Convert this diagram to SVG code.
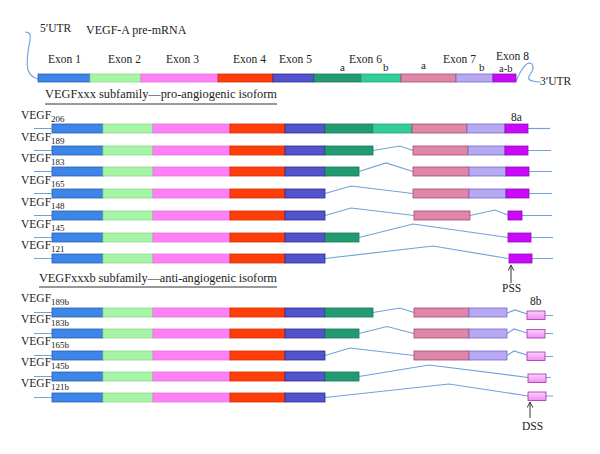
<svg xmlns="http://www.w3.org/2000/svg" width="600" height="454" viewBox="0 0 600 454">
<defs>
<style>
text{font-family:"Liberation Serif","Times New Roman",serif;fill:#222;}
.lb{font-size:11.5px;}
.hd{font-size:12.4px;}
.sm{font-size:11px;}
.sub{font-size:9px;}
.ln{fill:none;stroke:#6fa3dc;stroke-width:1.2;}
.ul{stroke:#333;stroke-width:1;}
.ar{stroke:#333;stroke-width:1;fill:none;}
.e1{fill:#3d85e8;stroke:#2a5ca8;stroke-width:0.8;}
.e2{fill:#a6f5a6;stroke:#8ed88e;stroke-width:0.8;}
.e3{fill:#ff80f5;stroke:#e472e4;stroke-width:0.8;}
.e4{fill:#ff3d0a;stroke:#d03000;stroke-width:0.8;}
.e5{fill:#5254cc;stroke:#2c2c8c;stroke-width:0.8;}
.e6a{fill:#229a72;stroke:#1a7858;stroke-width:0.8;}
.e6b{fill:#33cc99;stroke:#22a880;stroke-width:0.8;}
.e7a{fill:#de87a8;stroke:#a84870;stroke-width:0.8;}
.e7b{fill:#b7a8f2;stroke:#7868c8;stroke-width:0.8;}
.e8a{fill:#cc08fa;stroke:#8a10b0;stroke-width:0.8;}
.e8b{fill:url(#g8b);stroke:#a030b0;stroke-width:0.8;}
</style>
<linearGradient id="g8b" x1="0" y1="0" x2="0" y2="1">
<stop offset="0" stop-color="#fbd0fb"/>
<stop offset="1" stop-color="#f090f0"/>
</linearGradient>
<marker id="ah" viewBox="0 0 10 10" refX="9" refY="5" markerWidth="7" markerHeight="7" orient="auto">
<path d="M1,1 L9,5 L1,9" fill="none" stroke="#333" stroke-width="1.4"/>
</marker>
</defs>
<rect width="600" height="454" fill="#fff"/>

<g id="connectors">
<path class="ln" d="M25,32 C30,32 31,35 30,40 C28,50 26,62 28,70 C30,76 34,78 38,79"/>
<path class="ln" d="M516,81 C520,72 524,64 529,63 C534,63 534,69 531,73 C528,77 527,80 533,81 C536,82 538,82 541,82"/>
<path class="ln" d="M34,128.5H52 M34,150.5H52 M34,171.5H52 M34,193.5H52 M34,215.5H52 M34,237.5H52 M34,258.5H52"/>
<path class="ln" d="M528,128.5H550"/>
<path class="ln" d="M373,150.5 L400,146 L413,150.5 M528,150.5H551"/>
<path class="ln" d="M359,171.5 L386,163 L413,171.5 M529,171.5H552"/>
<path class="ln" d="M325,193.5 L351,186 L413,193.5 M529,193.5H552"/>
<path class="ln" d="M325,215.5 L351,208 L414,215.5 M470,215.5 L495,210 L508,215 M522,215.5H552"/>
<path class="ln" d="M359,237.5 L413,224 L508,237.5 M531,237.5H553"/>
<path class="ln" d="M325,258.5 L433,246 L508,258.5 M532,258.5H553"/>
<path class="ln" d="M34,312.5H52 M34,333.5H52 M34,355.5H52 M34,376.5H52 M34,397.5H52"/>
<path class="ln" d="M373,312.5 L400,308 L414,312.5 M507,313 L515,310 L527,314 M545,315.5H553"/>
<path class="ln" d="M359,333.5 L387,326.5 L414,333.5 M507,333.5 L514,329 L527,333 M545,333.5H553"/>
<path class="ln" d="M325,355.5 L350,348 L414,355.5 M507,355.5 L514,351 L527,355 M545,356.5H553"/>
<path class="ln" d="M359,376.5 L429,365 L528,377.5 M546,377.5H551"/>
<path class="ln" d="M325,397.5 L449,384 L528,396 M546,396H553"/>
<line class="ar" x1="511" y1="283" x2="511" y2="265" marker-end="url(#ah)"/>
<line class="ar" x1="530" y1="418" x2="530" y2="402" marker-end="url(#ah)"/>
</g>

<g id="premrna">
<text class="lb" x="40" y="32">5′UTR</text>
<text x="86" y="34" style="font-size:12px">VEGF-A pre-mRNA</text>
<text class="lb" x="48" y="63">Exon 1</text>
<text class="lb" x="108" y="63">Exon 2</text>
<text class="lb" x="166" y="63">Exon 3</text>
<text class="lb" x="233" y="63">Exon 4</text>
<text class="lb" x="279" y="63">Exon 5</text>
<text class="lb" x="349" y="63">Exon 6</text>
<text class="sm" x="340" y="71">a</text>
<text class="sm" x="383" y="71">b</text>
<text class="sm" x="421" y="69">a</text>
<text class="lb" x="443" y="63">Exon 7</text>
<text class="sm" x="479" y="71">b</text>
<text class="lb" x="496" y="60">Exon 8</text>
<text x="499" y="72" style="font-size:10.5px">a-b</text>
<text class="lb" x="540" y="85">3′UTR</text>
<rect class="e1" x="38" y="74" width="52" height="8"/>
<rect class="e2" x="90" y="74" width="51" height="8"/>
<rect class="e3" x="141" y="74" width="77" height="8"/>
<rect class="e4" x="218" y="74" width="55" height="8"/>
<rect class="e5" x="273" y="74" width="41" height="8"/>
<rect class="e6a" x="314" y="74" width="47" height="8"/>
<rect class="e6b" x="361" y="74" width="40" height="8"/>
<rect class="e7a" x="401" y="74" width="55" height="8"/>
<rect class="e7b" x="456" y="74" width="37" height="8"/>
<rect class="e8a" x="493" y="74" width="23" height="8"/>
</g>

<g id="header-pro">
<text class="hd" x="45" y="98" textLength="232">VEGFxxx subfamily—pro-angiogenic isoform</text>
<line class="ul" x1="45" y1="104" x2="277" y2="104"/>
</g>

<g id="vegf206">
<text class="lb" x="21" y="119">VEGF<tspan class="sub" dy="2.5">206</tspan></text>
<rect class="e1" x="52" y="124" width="51" height="9"/><rect class="e2" x="103" y="124" width="50" height="9"/><rect class="e3" x="153" y="124" width="77" height="9"/><rect class="e4" x="230" y="124" width="55" height="9"/><rect class="e5" x="285" y="124" width="40" height="9"/>
<rect class="e6a" x="325" y="124" width="48" height="9"/><rect class="e6b" x="373" y="124" width="39" height="9"/><rect class="e7a" x="412" y="124" width="55" height="9"/><rect class="e7b" x="467" y="124" width="38" height="9"/><rect class="e8a" x="505" y="124" width="23" height="9"/>
<text class="lb" x="511" y="121">8a</text>
</g>
<g id="vegf189">
<text class="lb" x="21" y="141">VEGF<tspan class="sub" dy="2.5">189</tspan></text>
<rect class="e1" x="52" y="146" width="51" height="9"/><rect class="e2" x="103" y="146" width="50" height="9"/><rect class="e3" x="153" y="146" width="77" height="9"/><rect class="e4" x="230" y="146" width="55" height="9"/><rect class="e5" x="285" y="146" width="40" height="9"/>
<rect class="e6a" x="325" y="146" width="48" height="9"/><rect class="e7a" x="413" y="146" width="55" height="9"/><rect class="e7b" x="468" y="146" width="37" height="9"/><rect class="e8a" x="505" y="146" width="23" height="9"/>
</g>
<g id="vegf183">
<text class="lb" x="21" y="162">VEGF<tspan class="sub" dy="2.5">183</tspan></text>
<rect class="e1" x="52" y="167" width="51" height="9"/><rect class="e2" x="103" y="167" width="50" height="9"/><rect class="e3" x="153" y="167" width="77" height="9"/><rect class="e4" x="230" y="167" width="55" height="9"/><rect class="e5" x="285" y="167" width="40" height="9"/>
<rect class="e6a" x="325" y="167" width="34" height="9"/><rect class="e7a" x="413" y="167" width="56" height="9"/><rect class="e7b" x="469" y="167" width="37" height="9"/><rect class="e8a" x="506" y="167" width="23" height="9"/>
</g>
<g id="vegf165">
<text class="lb" x="21" y="184">VEGF<tspan class="sub" dy="2.5">165</tspan></text>
<rect class="e1" x="52" y="189" width="51" height="9"/><rect class="e2" x="103" y="189" width="50" height="9"/><rect class="e3" x="153" y="189" width="77" height="9"/><rect class="e4" x="230" y="189" width="55" height="9"/><rect class="e5" x="285" y="189" width="40" height="9"/>
<rect class="e7a" x="413" y="189" width="56" height="9"/><rect class="e7b" x="469" y="189" width="37" height="9"/><rect class="e8a" x="506" y="189" width="23" height="9"/>
</g>
<g id="vegf148">
<text class="lb" x="21" y="206">VEGF<tspan class="sub" dy="2.5">148</tspan></text>
<rect class="e1" x="52" y="211" width="51" height="9"/><rect class="e2" x="103" y="211" width="50" height="9"/><rect class="e3" x="153" y="211" width="77" height="9"/><rect class="e4" x="230" y="211" width="55" height="9"/><rect class="e5" x="285" y="211" width="40" height="9"/>
<rect class="e7a" x="414" y="211" width="56" height="9"/><rect class="e8a" x="508" y="211" width="14" height="9"/>
</g>
<g id="vegf145">
<text class="lb" x="21" y="228">VEGF<tspan class="sub" dy="2.5">145</tspan></text>
<rect class="e1" x="52" y="233" width="51" height="9"/><rect class="e2" x="103" y="233" width="50" height="9"/><rect class="e3" x="153" y="233" width="77" height="9"/><rect class="e4" x="230" y="233" width="55" height="9"/><rect class="e5" x="285" y="233" width="40" height="9"/>
<rect class="e6a" x="325" y="233" width="34" height="9"/><rect class="e8a" x="508" y="233" width="23" height="9"/>
</g>
<g id="vegf121">
<text class="lb" x="21" y="249">VEGF<tspan class="sub" dy="2.5">121</tspan></text>
<rect class="e1" x="52" y="254" width="51" height="9"/><rect class="e2" x="103" y="254" width="50" height="9"/><rect class="e3" x="153" y="254" width="77" height="9"/><rect class="e4" x="230" y="254" width="55" height="9"/><rect class="e5" x="285" y="254" width="40" height="9"/>
<rect class="e8a" x="509" y="254" width="23" height="9"/>
</g>
<g id="pss">
<text class="lb" x="502" y="292">PSS</text>
</g>

<g id="header-anti">
<text class="hd" x="39" y="282" textLength="238">VEGFxxxb subfamily—anti-angiogenic isoform</text>
<line class="ul" x1="39" y1="287" x2="277" y2="287"/>
</g>

<g id="vegf189b">
<text class="lb" x="21" y="302">VEGF<tspan class="sub" dy="2.5">189b</tspan></text>
<rect class="e1" x="52" y="308" width="51" height="9"/><rect class="e2" x="103" y="308" width="50" height="9"/><rect class="e3" x="153" y="308" width="77" height="9"/><rect class="e4" x="230" y="308" width="55" height="9"/><rect class="e5" x="285" y="308" width="40" height="9"/>
<rect class="e6a" x="325" y="308" width="48" height="9"/><rect class="e7a" x="414" y="308" width="55" height="9"/><rect class="e7b" x="469" y="308" width="38" height="9"/><rect class="e8b" x="527" y="311" width="18" height="8.5"/>
<text class="lb" x="530" y="305">8b</text>
</g>
<g id="vegf183b">
<text class="lb" x="21" y="323">VEGF<tspan class="sub" dy="2.5">183b</tspan></text>
<rect class="e1" x="52" y="329" width="51" height="9"/><rect class="e2" x="103" y="329" width="50" height="9"/><rect class="e3" x="153" y="329" width="77" height="9"/><rect class="e4" x="230" y="329" width="55" height="9"/><rect class="e5" x="285" y="329" width="40" height="9"/>
<rect class="e6a" x="325" y="329" width="34" height="9"/><rect class="e7a" x="414" y="329" width="55" height="9"/><rect class="e7b" x="469" y="329" width="38" height="9"/><rect class="e8b" x="527" y="329.5" width="18" height="8.5"/>
</g>
<g id="vegf165b">
<text class="lb" x="21" y="345">VEGF<tspan class="sub" dy="2.5">165b</tspan></text>
<rect class="e1" x="52" y="351" width="51" height="9"/><rect class="e2" x="103" y="351" width="50" height="9"/><rect class="e3" x="153" y="351" width="77" height="9"/><rect class="e4" x="230" y="351" width="55" height="9"/><rect class="e5" x="285" y="351" width="40" height="9"/>
<rect class="e7a" x="414" y="351" width="55" height="9"/><rect class="e7b" x="469" y="351" width="38" height="9"/><rect class="e8b" x="527" y="352" width="18" height="8.5"/>
</g>
<g id="vegf145b">
<text class="lb" x="21" y="366">VEGF<tspan class="sub" dy="2.5">145b</tspan></text>
<rect class="e1" x="52" y="372" width="51" height="9"/><rect class="e2" x="103" y="372" width="50" height="9"/><rect class="e3" x="153" y="372" width="77" height="9"/><rect class="e4" x="230" y="372" width="55" height="9"/><rect class="e5" x="285" y="372" width="40" height="9"/>
<rect class="e6a" x="325" y="372" width="34" height="9"/><rect class="e8b" x="528" y="374" width="18" height="8.5"/>
</g>
<g id="vegf121b">
<text class="lb" x="21" y="387">VEGF<tspan class="sub" dy="2.5">121b</tspan></text>
<rect class="e1" x="52" y="393" width="51" height="9"/><rect class="e2" x="103" y="393" width="50" height="9"/><rect class="e3" x="153" y="393" width="77" height="9"/><rect class="e4" x="230" y="393" width="55" height="9"/><rect class="e5" x="285" y="393" width="40" height="9"/>
<rect class="e8b" x="528" y="392" width="18" height="8.5"/>
</g>
<g id="dss">
<text class="lb" x="522" y="430">DSS</text>
</g>
</svg>
